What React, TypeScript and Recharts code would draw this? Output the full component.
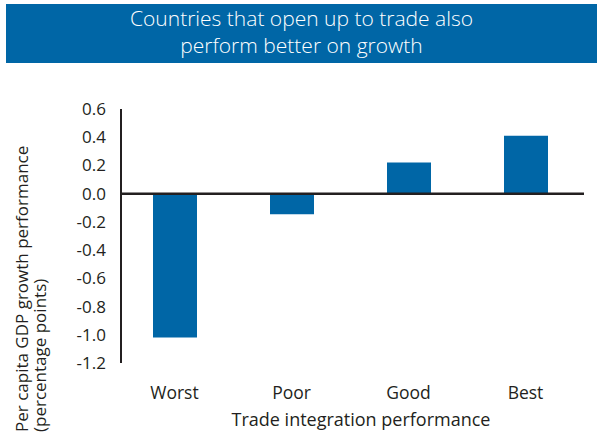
import React from 'react';
import { BarChart, Bar, XAxis, YAxis, ReferenceLine } from 'recharts';

const categories = ['Worst', 'Poor', 'Good', 'Best'];
const values = [-1.02, -0.145, 0.22, 0.41];
const yTicks = [0.6, 0.4, 0.2, 0.0, -0.2, -0.4, -0.6, -0.8, -1.0, -1.2];
const titleLines = ['Countries that open up to trade also', 'perform better on growth'];
const yTitleLines = ['Per capita GDP growth performance', '(percentage points)'];
const xTitle = 'Trade integration performance';

const data = categories.map((c, i) => ({ cat: c, value: values[i] }));

const BLUE = '#0066a6';
const TEXT = '#231f20';
const FONT = '"Open Sans", sans-serif';

export default function App() {
  return (
    <div style={{ position: 'absolute', left: 0, top: 0, width: 598, height: 441, background: '#fff', fontFamily: FONT }}>
      <div
        style={{
          position: 'absolute',
          left: 6,
          top: 4,
          width: 591,
          height: 59,
          background: BLUE,
          color: '#fff',
          textAlign: 'center',
          fontFamily: FONT,
          fontWeight: 300,
          fontSize: 21,
          lineHeight: '27px',
          paddingTop: 1,
          boxSizing: 'border-box',
        }}
      >
        {titleLines.map((l) => (
          <div key={l}>{l}</div>
        ))}
      </div>
      <div style={{ position: 'absolute', left: 0, top: 0 }}>
        <BarChart width={598} height={441} data={data} margin={{ top: 109, right: 14, bottom: 0, left: 0 }}>
          <XAxis
            dataKey="cat"
            axisLine={false}
            tickLine={false}
            tickSize={0}
            tickMargin={24}
            height={78}
            padding={{ left: -5, right: 0 }}
            tick={{ fontSize: 17.5, fill: TEXT, fontFamily: FONT }}
          />
          <YAxis
            type="number"
            domain={[-1.2, 0.6]}
            ticks={yTicks}
            interval={0}
            tickFormatter={(v: number) => v.toFixed(1)}
            width={121}
            axisLine={{ stroke: TEXT, strokeWidth: 2 }}
            tickLine={false}
            tickSize={0}
            tickMargin={15}
            tick={{ fontSize: 17, fill: TEXT, fontFamily: FONT }}
          />
          <Bar dataKey="value" fill={BLUE} barSize={44} isAnimationActive={false} />
          <ReferenceLine y={0} stroke={TEXT} strokeWidth={2.5} />
        </BarChart>
      </div>
      <svg width={598} height={441} style={{ position: 'absolute', left: 0, top: 0, pointerEvents: 'none' }}>
        {yTitleLines.map((l, i) => {
          const x = 28 + i * 18;
          return (
            <text
              key={l}
              x={x}
              y={432}
              transform={`rotate(-90 ${x} 432)`}
              textAnchor="start"
              fontSize={17}
              fill={TEXT}
              fontFamily={FONT}
            >
              {l}
            </text>
          );
        })}
        <text x={361} y={426} textAnchor="middle" fontSize={18} fill={TEXT} fontFamily={FONT}>
          {xTitle}
        </text>
      </svg>
    </div>
  );
}
